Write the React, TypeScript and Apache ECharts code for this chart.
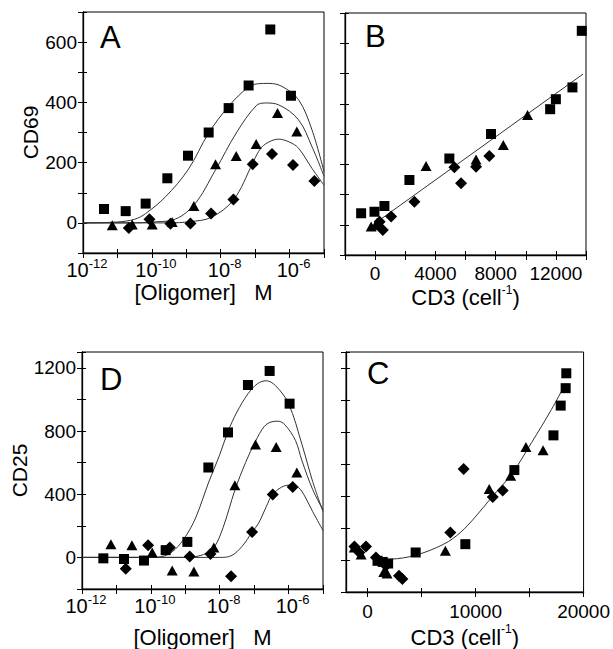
import React, { useEffect, useRef } from "react";
import * as echarts from "echarts";

const FONT = "Liberation Sans, Arial, Helvetica, sans-serif";

// ---------- Panel A: CD69 vs log10 [Oligomer] (M) ----------
const aSquares: number[][] = [
  [-11.39, 46], [-10.76, 39], [-10.18, 64], [-9.55, 148], [-8.95, 223],
  [-8.35, 300], [-7.77, 381], [-7.19, 456], [-6.56, 642], [-5.96, 422],
];
const aTriangles: number[][] = [
  [-11.15, -8], [-10.57, -5], [-9.99, -5], [-9.41, 3], [-8.78, 56],
  [-8.15, 195], [-7.55, 222], [-6.97, 262], [-6.35, 365], [-5.79, 303],
];
const aDiamonds: number[][] = [
  [-10.67, -17], [-10.07, 12], [-9.46, -3], [-8.88, -2], [-8.28, 31],
  [-7.63, 78], [-7.07, 195], [-6.51, 229], [-5.9, 192], [-5.28, 139],
];
const aFitSquares: number[][] = [
  [-12, 0], [-11, 3], [-10.5, 12], [-10.18, 31], [-9.6, 87], [-8.95, 176],
  [-8.35, 298], [-7.77, 387], [-7.19, 451], [-6.9, 462], [-6.6, 463],
  [-6.22, 453], [-5.74, 409], [-5.35, 309], [-5, 170],
];
const aFitTriangles: number[][] = [
  [-12, 0], [-10.5, 0], [-10, 3], [-9.41, 9], [-8.78, 59], [-8.15, 176],
  [-7.55, 298], [-6.97, 389], [-6.7, 398], [-6.32, 392], [-5.74, 342],
  [-5.35, 253], [-5, 155],
];
const aFitDiamonds: number[][] = [
  [-12, 0], [-9.5, 0], [-8.9, 4], [-8.28, 18], [-7.63, 76], [-7.07, 198],
  [-6.9, 237], [-6.7, 262], [-6.32, 278], [-6.0, 268], [-5.74, 248],
  [-5.35, 181], [-5, 125],
];

// ---------- Panel B: CD69 vs CD3 (cell^-1) ----------
const bSquares: number[][] = [
  [-929, 38], [-44, 43], [617, 62], [2276, 148], [4928, 219],
  [7695, 300], [11620, 382], [12000, 415], [13100, 454], [13720, 641],
];
const bTriangles: number[][] = [
  [-265, -6], [287, -1], [100, 5], [3382, 194], [6700, 216],
  [8510, 264], [10120, 363],
];
const bDiamonds: number[][] = [
  [511, -17], [1061, 27], [300, 10], [2608, 76], [5260, 190],
  [5704, 137], [6700, 192], [7580, 227],
];
const bFit: number[][] = [[0, 5], [13800, 498]];

// ---------- Panel D: CD25 vs log10 [Oligomer] (M) ----------
const dSquares: number[][] = [
  [-11.38, -6], [-10.78, -10], [-10.2, -20], [-9.57, 46], [-8.94, 98],
  [-8.33, 569], [-7.76, 791], [-7.18, 1091], [-6.55, 1180], [-5.97, 973],
];
const dTriangles: number[][] = [
  [-11.16, 83], [-10.55, 77], [-9.96, 31], [-9.38, -83], [-8.75, -89],
  [-8.17, 62], [-7.56, 456], [-6.96, 714], [-6.36, 698], [-5.76, 538],
];
const dDiamonds: number[][] = [
  [-10.73, -72], [-10.08, 77], [-9.45, 62], [-8.87, 6], [-8.27, 21],
  [-7.67, -120], [-7.06, 160], [-6.46, 398], [-5.88, 445],
];
const dFitSquares: number[][] = [
  [-12, 0], [-10, 0], [-9.6, 10], [-9.3, 50], [-9.0, 130], [-8.7, 250],
  [-8.33, 470], [-8.0, 650], [-7.76, 797], [-7.5, 920], [-7.18, 1035],
  [-6.9, 1100], [-6.65, 1118], [-6.38, 1087], [-6.0, 973], [-5.61, 714],
  [-5.3, 480], [-5, 290],
];
const dFitTriangles: number[][] = [
  [-12, 0], [-9, 0], [-8.7, 5], [-8.4, 25], [-8.17, 60], [-7.9, 190],
  [-7.56, 425], [-7.25, 600], [-6.96, 735], [-6.7, 830], [-6.48, 859],
  [-6.3, 862], [-6.1, 838], [-5.8, 740], [-5.61, 611], [-5.3, 430], [-5, 300],
];
const dFitDiamonds: number[][] = [
  [-12, 0], [-8, 0], [-7.67, 10], [-7.35, 70], [-7.06, 160], [-6.87, 217],
  [-6.65, 320], [-6.48, 394], [-6.2, 445], [-5.95, 458], [-5.7, 440],
  [-5.52, 383], [-5.3, 290], [-5, 170],
];

// ---------- Panel C: CD25 vs CD3 (cell^-1) ----------
const cSquares: number[][] = [
  [920, -5], [1400, -12], [1900, -22], [4450, 47], [9050, 99],
  [13590, 562], [17210, 779], [17880, 965], [18340, 1074], [18400, 1167],
];
const cTriangles: number[][] = [
  [-1230, 78], [-600, 35], [1500, -75], [1800, -85], [7200, 58],
  [11260, 444], [13250, 527], [14660, 707], [16250, 686],
];
const cDiamonds: number[][] = [
  [-1220, 84], [-150, 84], [-760, 47], [770, 16], [1690, -36],
  [2910, -98], [3220, -119], [7660, 172], [8890, 568], [11590, 393],
  [12510, 434],
];
const cFit: number[][] = [
  [1500, 4], [2150, 5], [4450, 30], [7050, 99], [8580, 171], [9970, 269],
  [11500, 393], [13340, 537], [15180, 733], [17020, 940], [18100, 1074],
];

// ---------- Axis tick labels ----------
const logTickLabels = [-12, -10, -8, -6];
const aYLabels = [0, 200, 400, 600];
const bXLabels = [0, 4000, 8000, 12000];
const dYLabels = [0, 400, 800, 1200];
const cXTicks = [0, 5000, 10000, 15000, 20000];
const cXLabels = [0, 10000, 20000];

const BLACK = "#000";

function tickLabelStyle(extra: any = {}) {
  return { color: BLACK, fontSize: 19, fontFamily: FONT, ...extra };
}

function xPair(grid: number, cfg: any) {
  const main: any = {
    type: "value", gridIndex: grid, position: "bottom",
    min: cfg.min, max: cfg.max, interval: cfg.interval,
    axisLine: { show: true, onZero: false, lineStyle: { color: BLACK, width: 1.3 } },
    axisTick: { show: true, inside: false, length: 5, lineStyle: { color: BLACK, width: 1 } },
    axisLabel: { show: true, margin: cfg.labelMargin, formatter: cfg.formatter, ...tickLabelStyle(cfg.labelExtra || {}) },
    splitLine: { show: false },
    name: cfg.name, nameLocation: "middle", nameGap: cfg.nameGap,
    nameTextStyle: { color: BLACK, fontSize: 22, fontFamily: FONT, ...(cfg.nameExtra || {}) },
  };
  if (cfg.customTicks) {
    main.axisTick.customValues = cfg.customTicks;
    main.axisLabel.customValues = cfg.customLabels;
  }
  const ghost: any = {
    type: "value", gridIndex: grid, position: "bottom",
    min: cfg.min, max: cfg.max, interval: cfg.interval,
    axisLine: { show: false, onZero: false },
    axisTick: { show: true, inside: true, length: 4, lineStyle: { color: BLACK, width: 1 } },
    axisLabel: { show: false },
    splitLine: { show: false },
  };
  if (cfg.customTicks) ghost.axisTick.customValues = cfg.customTicks;
  return [main, ghost];
}

function yPair(grid: number, cfg: any) {
  const main: any = {
    type: "value", gridIndex: grid, position: "left",
    min: cfg.min, max: cfg.max, interval: cfg.interval,
    axisLine: { show: true, onZero: false, lineStyle: { color: BLACK, width: 1.3 } },
    axisTick: { show: true, inside: false, length: 5, lineStyle: { color: BLACK, width: 1 } },
    axisLabel: { show: !!cfg.formatter, margin: 6, formatter: cfg.formatter, ...tickLabelStyle() },
    splitLine: { show: false },
    name: cfg.name || "", nameLocation: "middle", nameGap: cfg.nameGap || 0,
    nameTextStyle: { color: BLACK, fontSize: 21, fontFamily: FONT },
  };
  const ghost: any = {
    type: "value", gridIndex: grid, position: "left",
    min: cfg.min, max: cfg.max, interval: cfg.interval,
    axisLine: { show: false, onZero: false },
    axisTick: { show: true, inside: true, length: 4, lineStyle: { color: BLACK, width: 1 } },
    axisLabel: { show: false },
    splitLine: { show: false },
  };
  return [main, ghost];
}

const logFormatter = (v: number) =>
  logTickLabels.includes(Math.round(v)) && Math.abs(v - Math.round(v)) < 1e-9
    ? `{b|10}{s|${Math.round(v)}}`
    : "";
const pickFormatter = (list: number[]) => (v: number) => (list.includes(v) ? String(v) : "");

const supRich = {
  b: { fontSize: 20, fontFamily: FONT, color: BLACK, lineHeight: 26, padding: [0, 0, 0, 8] },
  s: { fontSize: 13, fontFamily: FONT, color: BLACK, verticalAlign: "top", lineHeight: 13 },
};
const nameRich = {
  n: { fontSize: 22, fontFamily: FONT, color: BLACK, lineHeight: 28 },
  s: { fontSize: 12, fontFamily: FONT, color: BLACK, verticalAlign: "top", lineHeight: 12 },
};

function scatter(x: number, y: number, data: number[][], symbol: string, size: any) {
  return {
    type: "scatter", xAxisIndex: x, yAxisIndex: y, data, symbol, symbolSize: size,
    itemStyle: { color: BLACK, opacity: 1 }, z: 3, silent: true,
  };
}
function fit(x: number, y: number, data: number[][], smooth: any = 0.35) {
  return {
    type: "line", xAxisIndex: x, yAxisIndex: y, data, smooth, showSymbol: false,
    symbol: "none", lineStyle: { color: "#333", width: 1 }, z: 2, silent: true,
  };
}

export default function App() {
  const ref = useRef<HTMLDivElement>(null);
  useEffect(() => {
    if (!ref.current) return;
    const chart = echarts.init(ref.current, undefined, { renderer: "svg" });
    const gridStyle = { show: true, borderColor: BLACK, borderWidth: 1, containLabel: false };
    const [ax, axg] = xPair(0, {
      min: -12, max: -5, interval: 1, formatter: logFormatter, labelMargin: 4,
      labelExtra: { rich: supRich }, name: "[Oligomer]   M", nameGap: 28,
    });
    const [bx, bxg] = xPair(1, {
      min: -2000, max: 14000, interval: 2000, formatter: pickFormatter(bXLabels), labelMargin: 9,
      name: "{n|CD3 (cell}{s|-1}{n|)}", nameGap: 24, nameExtra: { rich: nameRich },
    });
    const [dx, dxg] = xPair(2, {
      min: -12, max: -5, interval: 1, formatter: logFormatter, labelMargin: 4,
      labelExtra: { rich: supRich }, name: "[Oligomer]   M", nameGap: 37,
    });
    const [cx, cxg] = xPair(3, {
      min: -2000, max: 20000, formatter: pickFormatter(cXLabels), labelMargin: 10,
      customTicks: cXTicks, customLabels: cXLabels,
      name: "{n|CD3 (cell}{s|-1}{n|)}", nameGap: 31, nameExtra: { rich: nameRich },
    });
    const [ay, ayg] = yPair(0, { min: -100, max: 700, interval: 100, formatter: pickFormatter(aYLabels), name: "CD69", nameGap: 39 });
    const [by, byg] = yPair(1, { min: -100, max: 700, interval: 100 });
    const [dy, dyg] = yPair(2, { min: -200, max: 1300, interval: 200, formatter: pickFormatter(dYLabels), name: "CD25", nameGap: 51 });
    const [cy, cyg] = yPair(3, { min: -200, max: 1300, interval: 200 });

    const letter = (t: string, left: number, top: number) => ({
      type: "text", left, top, silent: true,
      style: { text: t, fontSize: 31, fontFamily: FONT, fill: BLACK },
    });

    chart.setOption({
      animation: false,
      backgroundColor: "#fff",
      grid: [
        { left: 83, top: 12, width: 241, height: 241, ...gridStyle },
        { left: 345, top: 13, width: 241, height: 242, ...gridStyle },
        { left: 82, top: 352, width: 241, height: 241, ...gridStyle },
        { left: 346, top: 352, width: 240, height: 241, ...gridStyle },
      ],
      // x indices: 0 A, 1 A ghost, 2 B, 3 B ghost, 4 D, 5 D ghost, 6 C, 7 C ghost
      xAxis: [ax, axg, bx, bxg, dx, dxg, cx, cxg],
      yAxis: [ay, ayg, by, byg, dy, dyg, cy, cyg],
      graphic: [
        letter("A", 100, 22),
        letter("B", 365, 21),
        letter("D", 100, 364),
        letter("C", 367, 358),
      ],
      series: [
        fit(0, 0, aFitSquares), fit(0, 0, aFitTriangles), fit(0, 0, aFitDiamonds),
        scatter(0, 0, aSquares, "rect", 10),
        scatter(0, 0, aTriangles, "triangle", [11, 10]),
        scatter(0, 0, aDiamonds, "diamond", 12),

        fit(2, 2, bFit, false),
        scatter(2, 2, bSquares, "rect", 10),
        scatter(2, 2, bTriangles, "triangle", [11, 10]),
        scatter(2, 2, bDiamonds, "diamond", 12),

        fit(4, 4, dFitSquares), fit(4, 4, dFitTriangles), fit(4, 4, dFitDiamonds),
        scatter(4, 4, dSquares, "rect", 10),
        scatter(4, 4, dTriangles, "triangle", [11, 10]),
        scatter(4, 4, dDiamonds, "diamond", 12),

        fit(6, 6, cFit),
        scatter(6, 6, cSquares, "rect", 10),
        scatter(6, 6, cTriangles, "triangle", [11, 10]),
        scatter(6, 6, cDiamonds, "diamond", 12),
      ],
    });
    return () => chart.dispose();
  }, []);
  return (
    <div
      ref={ref}
      style={{ position: "fixed", left: 0, top: 0, width: 613, height: 649, background: "#fff" }}
    />
  );
}
